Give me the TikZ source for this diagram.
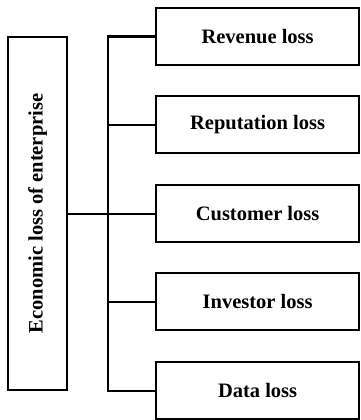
\documentclass[tikz,border=0pt]{standalone}
\usepackage{fontspec}
\setmainfont{Liberation Serif}
\begin{document}
\begin{tikzpicture}[x=1pt,y=-1pt,
  box/.style={draw, line width=2.2pt, rectangle, inner sep=0pt,
    font=\bfseries\fontsize{20.5}{22}\selectfont},
  lossbox/.style={box, minimum width=203pt, minimum height=57pt, anchor=north west},
  link/.style={line width=2.2pt}]
\useasboundingbox (0,0) rectangle (360,420);

% root box with vertical caption
\node[box, minimum width=59pt, minimum height=353pt] (econ) at (37.5,213.5)
  {\rotatebox{90}{Economic loss of enterprise}};

% the five kinds of loss
\node[lossbox] (r1) at (155,7)   {Revenue loss};
\node[lossbox] (r2) at (155,95)  {Reputation loss};
\node[lossbox] (r3) at (155,184) {Customer loss};
\node[lossbox] (r4) at (155,272) {Investor loss};
\node[lossbox] (r5) at (155,361) {Data loss};

% junction on the vertical trunk
\coordinate (j) at (108,212.5);

% connectors
\draw[link] (econ.east |- r3.west) -- (r3.west);
\draw[link] (r1.west) -- (r1.west -| j) -- (r5.west -| j) -- (r5.west);
\draw[link] (r2.west) -- (r2.west -| j);
\draw[link] (r4.west) -- (r4.west -| j);
\end{tikzpicture}
\end{document}
